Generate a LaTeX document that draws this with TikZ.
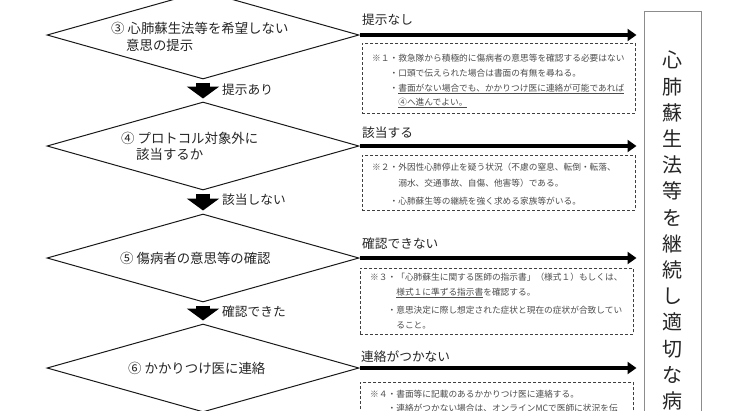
\documentclass[tikz,border=0pt]{standalone}
\usepackage{fontspec}
\setmainfont{Noto Sans CJK JP}
\usetikzlibrary{shapes.geometric,arrows.meta,calc}
\begin{document}
\begin{tikzpicture}[x=1pt,y=-1pt,
  dia/.style={diamond, draw=black!90, line width=1pt, minimum width=312pt, minimum height=88pt, inner sep=0pt},
  dtext/.style={anchor=west, inner sep=0pt, font=\fontsize{13.4}{16.5}\selectfont, text=black!85, align=left},
  lbl/.style={anchor=west, inner sep=0pt, font=\fontsize{12.7}{15}\selectfont, text=black!85},
  downarrow/.style={line width=14pt, -{Triangle[width=32pt,length=12pt]}, black},
  harrow/.style={line width=4.5pt, -{Triangle[width=12pt,length=9pt]}, shorten >=7pt, black},
  nbox/.style={draw=black!75, line width=0.8pt, dash pattern=on 3pt off 2pt, minimum width=273pt, anchor=north west, inner sep=0pt},
  nline/.style={anchor=west, inner sep=0pt, font=\fontsize{8.7}{10}\selectfont, text=black!70},
]
\useasboundingbox (0,0) rectangle (730,410);
\fill[white] (0,0) rectangle (730,410);
\clip (0,0) rectangle (730,410);

% right vertical box
\node[draw=black!45, line width=1pt, minimum width=57pt, minimum height=430pt, anchor=north, inner sep=0pt] (rb) at (672.5,11) {};
\node[anchor=north, inner sep=0pt, align=center, font=\fontsize{20}{26.2}\selectfont, text=black!85] (rt) at (672.5,51)
  {心\\肺\\蘇\\生\\法\\等\\を\\継\\続\\し\\適\\切\\な\\病\\院};

% diamonds
\node[dia] (d3) at (203,35) {};
\node[dia] (d4) at (203,146) {};
\node[dia] (d5) at (203,258) {};
\node[dia] (d6) at (203,368) {};

\node[dtext] (t3) at (111,37) {③ 心肺蘇生法等を希望しない\\\hspace{15pt}意思の提示};
\node[dtext] (t4) at (121,146.5) {④ プロトコル対象外に\\\hspace{15pt}該当するか};
\node[dtext] (t5) at (120,258) {⑤ 傷病者の意思等の確認};
\node[dtext] (t6) at (128,368) {⑥ かかりつけ医に連絡};

% down arrows
\draw[downarrow] ($(d3.south)+(0,3)$) -- ($(d4.north)+(0,-3)$);
\draw[downarrow] ($(d4.south)+(0,3)$) -- ($(d5.north)+(0,-3)$);
\draw[downarrow] ($(d5.south)+(0,3)$) -- ($(d6.north)+(0,-3)$);
\node[lbl] (l34) at (222,90) {提示あり};
\node[lbl] (l45) at (222,200) {該当しない};
\node[lbl] (l56) at (222,312) {確認できた};

% horizontal arrows
\draw[harrow] (d3.east) -- (d3.east -| rb.west);
\draw[harrow] (d4.east) -- (d4.east -| rb.west);
\draw[harrow] (d5.east) -- (d5.east -| rb.west);
\draw[harrow] (d6.east) -- (d6.east -| rb.west);
\node[lbl] (h3) at (362,20) {提示なし};
\node[lbl] (h4) at (362,133) {該当する};
\node[lbl] (h5) at (362,244) {確認できない};
\node[lbl] (h6) at (361,357) {連絡がつかない};

% note boxes
\node[nbox, minimum height=70pt] (b1) at (362,43) {};
\node[nbox, minimum height=55pt] (b2) at (362,155) {};
\node[nbox, minimum height=66pt] (b3) at (360,268) {};
\node[nbox, minimum height=60pt] (b4) at (360,382) {};

% note 1
\node[nline] (n1a) at (372,58) {※１・救急隊から積極的に傷病者の意思等を確認する必要はない};
\node[nline] (n1b) at (389.4,73) {・口頭で伝えられた場合は書面の有無を尋ねる。};
\node[nline] (n1c) at (389.4,89) {・\underline{書面がない場合でも、かかりつけ医に連絡が可能であれば}};
\node[nline] (n1d) at (398.1,103) {\underline{④へ進んでよい。}};
% note 2
\node[nline] (n2a) at (372,167) {※２・外因性心肺停止を疑う状況（不慮の窒息、転倒・転落、};
\node[nline] (n2b) at (398.1,183) {溺水、交通事故、自傷、他害等）である。};
\node[nline] (n2c) at (389.4,201) {・心肺蘇生等の継続を強く求める家族等がいる。};
% note 3
\node[nline] (n3a) at (370,277) {※３・「心肺蘇生に関する医師の指示書」（様式１）もしくは、};
\node[nline] (n3b) at (396.1,293) {\underline{様式１に準ずる指示書}を確認する。};
\node[nline] (n3c) at (387.4,310) {・意思決定に際し想定された症状と現在の症状が合致してい};
\node[nline] (n3d) at (396.1,325) {ること。};
% note 4
\node[nline] (n4a) at (370,394) {※４・書面等に記載のあるかかりつけ医に連絡する。};
\node[nline] (n4b) at (387.4,408) {・連絡がつかない場合は、オンラインMCで医師に状況を伝};
\end{tikzpicture}
\end{document}
